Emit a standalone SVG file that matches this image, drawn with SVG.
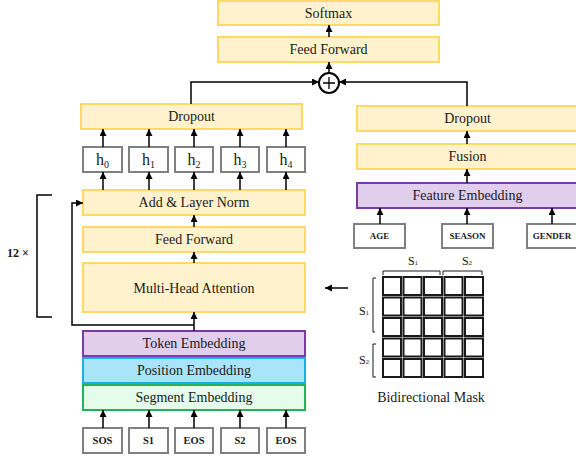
<svg xmlns="http://www.w3.org/2000/svg" width="576" height="457" viewBox="0 0 576 457">
<defs>
<marker id="ah" markerUnits="userSpaceOnUse" markerWidth="8" markerHeight="8" refX="7" refY="3.5" orient="auto">
<path d="M0,0 L7,3.5 L0,7 z" fill="#000"/>
</marker>
<style>
text{font-family:"Liberation Serif","Times New Roman",serif;fill:#1a1a1a;text-anchor:middle;dominant-baseline:central}
.y{fill:#FFF2CC;stroke:#FFD966;stroke-width:2}
.p{fill:#E1CDEC;stroke:#7B3AA8;stroke-width:2}
.b{fill:#A9E4FA;stroke:#1AAEE8;stroke-width:2}
.g{fill:#E3FCEB;stroke:#22B35A;stroke-width:2}
.k{fill:#fff;stroke:#808080;stroke-width:2}
.c{fill:#fff;stroke:#1a1a1a;stroke-width:2}
.t{font-size:14px}
.s{font-size:10.5px;font-weight:bold}
.f{font-size:9px;font-weight:bold}
.a{fill:none;stroke:#000;stroke-width:1.5;marker-end:url(#ah)}
.l{fill:none;stroke:#000;stroke-width:1.5}
</style>
</defs>

<g id="softmax"><rect class="y" x="218" y="1" width="221" height="24"/><text class="t" x="328.5" y="13.5">Softmax</text></g>
<g id="ff-top"><rect class="y" x="218" y="37" width="221" height="25"/><text class="t" x="328.5" y="49.5">Feed Forward</text></g>
<g id="plus"><circle cx="329" cy="83" r="10" fill="#fff" stroke="#000" stroke-width="2"/><path d="M323,83 H335 M329,77 V89" stroke="#000" stroke-width="1.3"/></g>

<g id="dropout-left"><rect class="y" x="81" y="104" width="221" height="25"/><text class="t" x="191.5" y="116.5">Dropout</text></g>
<g id="h0"><rect class="k" x="83" y="147" width="39" height="25"/><text x="102.5" y="159.5" font-size="16">h<tspan font-size="10" dy="4">0</tspan></text></g>
<g id="h1"><rect class="k" x="129" y="147" width="39" height="25"/><text x="148.5" y="159.5" font-size="16">h<tspan font-size="10" dy="4">1</tspan></text></g>
<g id="h2"><rect class="k" x="175" y="147" width="38" height="25"/><text x="194" y="159.5" font-size="16">h<tspan font-size="10" dy="4">2</tspan></text></g>
<g id="h3"><rect class="k" x="221" y="147" width="38" height="25"/><text x="240" y="159.5" font-size="16">h<tspan font-size="10" dy="4">3</tspan></text></g>
<g id="h4"><rect class="k" x="267" y="147" width="38" height="25"/><text x="286" y="159.5" font-size="16">h<tspan font-size="10" dy="4">4</tspan></text></g>

<g id="addnorm"><rect class="y" x="83" y="190" width="222" height="25"/><text class="t" x="194" y="202.5">Add &amp; Layer Norm</text></g>
<g id="ff-left"><rect class="y" x="83" y="227" width="222" height="25"/><text class="t" x="194" y="239.5">Feed Forward</text></g>
<g id="mha"><rect class="y" x="83" y="263" width="222" height="49"/><text class="t" x="194" y="288">Multi-Head Attention</text></g>
<g id="token"><rect class="p" x="83" y="331" width="222" height="25"/><text class="t" x="194" y="343.5">Token Embedding</text></g>
<g id="position"><rect class="b" x="83" y="358" width="222" height="25"/><text class="t" x="194" y="370.5">Position Embedding</text></g>
<g id="segment"><rect class="g" x="83" y="385" width="222" height="25"/><text class="t" x="194" y="397.5">Segment Embedding</text></g>

<g id="in-sos"><rect class="k" x="83" y="428" width="39" height="25"/><text class="s" x="102.5" y="440.5">SOS</text></g>
<g id="in-s1"><rect class="k" x="129" y="428" width="39" height="25"/><text class="s" x="148.5" y="440.5">S1</text></g>
<g id="in-eos1"><rect class="k" x="175" y="428" width="38" height="25"/><text class="s" x="194" y="440.5">EOS</text></g>
<g id="in-s2"><rect class="k" x="221" y="428" width="38" height="25"/><text class="s" x="240" y="440.5">S2</text></g>
<g id="in-eos2"><rect class="k" x="267" y="428" width="38" height="25"/><text class="s" x="286" y="440.5">EOS</text></g>

<g id="repeat"><path class="l" d="M52,195 H37 V317 H52"/><text x="18" y="253" font-size="12" font-weight="bold">12 ×</text></g>

<g id="dropout-right"><rect class="y" x="357" y="106" width="222" height="25"/><text class="t" x="467.5" y="118.5">Dropout</text></g>
<g id="fusion"><rect class="y" x="357" y="144" width="222" height="25"/><text class="t" x="467.5" y="156.5">Fusion</text></g>
<g id="feature"><rect class="p" x="357" y="183" width="222" height="25"/><text class="t" x="467.5" y="195.5">Feature Embedding</text></g>
<g id="age"><rect class="k" x="354" y="224" width="51" height="24"/><text class="f" x="379.5" y="236">AGE</text></g>
<g id="season"><rect class="k" x="442" y="224" width="51" height="24"/><text class="f" x="467.5" y="236">SEASON</text></g>
<g id="gender"><rect class="k" x="527" y="224" width="52" height="24"/><text class="f" x="552" y="236">GENDER</text></g>

<g id="mask">
<g fill="#fff" stroke="#1a1a1a" stroke-width="2">
<rect x="383" y="277" width="18" height="18"/><rect x="403.5" y="277" width="18" height="18"/><rect x="424" y="277" width="18" height="18"/><rect x="444.5" y="277" width="18" height="18"/><rect x="465" y="277" width="18" height="18"/>
<rect x="383" y="297.5" width="18" height="18"/><rect x="403.5" y="297.5" width="18" height="18"/><rect x="424" y="297.5" width="18" height="18"/><rect x="444.5" y="297.5" width="18" height="18"/><rect x="465" y="297.5" width="18" height="18"/>
<rect x="383" y="318" width="18" height="18"/><rect x="403.5" y="318" width="18" height="18"/><rect x="424" y="318" width="18" height="18"/><rect x="444.5" y="318" width="18" height="18"/><rect x="465" y="318" width="18" height="18"/>
<rect x="383" y="338.5" width="18" height="18"/><rect x="403.5" y="338.5" width="18" height="18"/><rect x="424" y="338.5" width="18" height="18"/><rect x="444.5" y="338.5" width="18" height="18"/><rect x="465" y="338.5" width="18" height="18"/>
<rect x="383" y="359" width="18" height="18"/><rect x="403.5" y="359" width="18" height="18"/><rect x="424" y="359" width="18" height="18"/><rect x="444.5" y="359" width="18" height="18"/><rect x="465" y="359" width="18" height="18"/>
</g>
<path fill="none" stroke="#1a1a1a" stroke-width="1" d="M383,275 V271 H440 V275 M443,275 V271 H482 V275 M376,278 H373 V332 H375 M376,344 H373 V377 H376"/>
<text x="413" y="261" font-size="12">S<tspan font-size="7" dy="2">1</tspan></text>
<text x="467" y="261" font-size="12">S<tspan font-size="7" dy="2">2</tspan></text>
<text x="364" y="311" font-size="12">S<tspan font-size="7" dy="2">1</tspan></text>
<text x="364" y="360" font-size="12">S<tspan font-size="7" dy="2">2</tspan></text>
<text class="t" x="431" y="397">Bidirectional Mask</text>
</g>

<g id="connectors">
<path class="a" d="M329,37 V25"/>
<path class="a" d="M329,73 V62"/>
<path class="a" d="M191,104 V82 H319"/>
<path class="a" d="M467,106 V82 H339"/>
<path class="a" d="M467,144 V131"/>
<path class="a" d="M467,183 V169"/>
<path class="a" d="M380,224 V208"/>
<path class="a" d="M467,224 V208"/>
<path class="a" d="M552,224 V208"/>
<path class="a" d="M103,147 V129"/>
<path class="a" d="M149,147 V129"/>
<path class="a" d="M194,147 V129"/>
<path class="a" d="M240,147 V129"/>
<path class="a" d="M286,147 V129"/>
<path class="a" d="M103,190 V172"/>
<path class="a" d="M149,190 V172"/>
<path class="a" d="M194,190 V172"/>
<path class="a" d="M240,190 V172"/>
<path class="a" d="M286,190 V172"/>
<path class="a" d="M194,227 V215"/>
<path class="a" d="M194,263 V252"/>
<path class="a" d="M194,331 V312"/>
<path class="a" d="M194,325 H72 V203 H83"/>
<path class="a" d="M103,428 V410"/>
<path class="a" d="M149,428 V410"/>
<path class="a" d="M194,428 V410"/>
<path class="a" d="M240,428 V410"/>
<path class="a" d="M286,428 V410"/>
<path class="a" d="M348,288 H325" stroke-width="2"/>
</g>
</svg>
